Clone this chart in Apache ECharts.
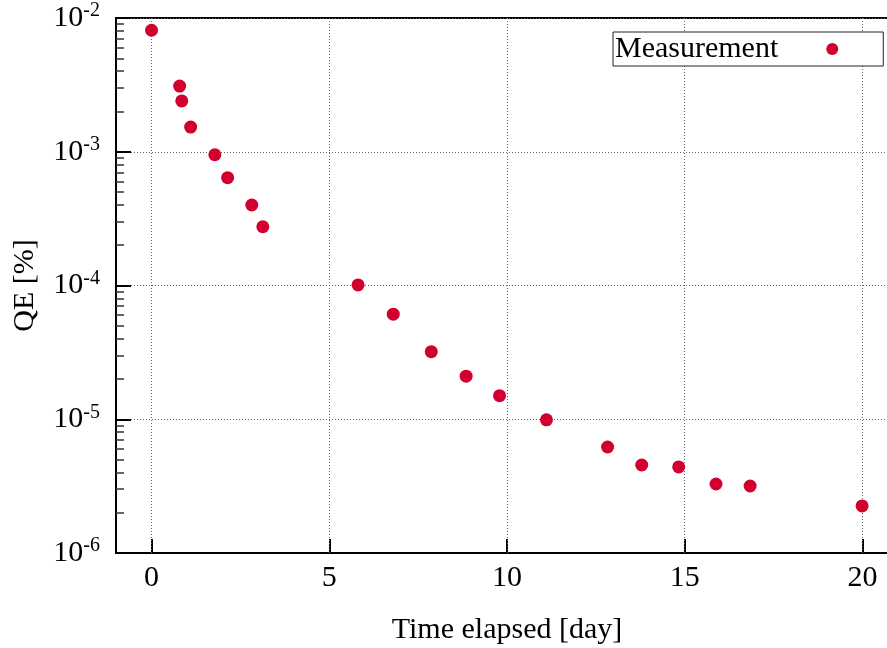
<!DOCTYPE html>
<html>
<head>
<meta charset="utf-8">
<script src="https://cdn.jsdelivr.net/npm/echarts@6/dist/echarts.min.js"></script>
<style>
  html, body { margin: 0; padding: 0; background: #fff; }
  #chart { width: 887px; height: 648px; }
</style>
</head>
<body>
<div id="chart"></div>
<script>
// Quantum efficiency decay over time (log scale)
const seriesName = 'Measurement';
const daysElapsed = [0, 0.79, 0.85, 1.10, 1.78, 2.14, 2.82, 3.13, 5.81, 6.80, 7.87, 8.85, 9.79, 11.11, 12.83, 13.79, 14.83, 15.88, 16.84, 19.99];
const qePercent = [8.1e-3, 3.1e-3, 2.4e-3, 1.53e-3, 9.5e-4, 6.4e-4, 4.0e-4, 2.75e-4, 1.01e-4, 6.1e-5, 3.2e-5, 2.1e-5, 1.5e-5, 9.9e-6, 6.2e-6, 4.55e-6, 4.4e-6, 3.28e-6, 3.17e-6, 2.25e-6];
const xTickValues = [0, 5, 10, 15, 20];
const yExponents = [-6, -5, -4, -3, -2];

const FONT = 'Liberation Serif';
const RED = '#d1002f';

// minor tick positions (log10 of 2..9 within each decade)
const minorLogTicks = [];
for (let e = yExponents[0]; e < yExponents[yExponents.length - 1]; e++) {
  for (let k = 2; k <= 9; k++) minorLogTicks.push(e + Math.log10(k));
}

const points = daysElapsed.map((d, i) => [d, qePercent[i]]);

const chart = echarts.init(document.getElementById('chart'), null, { renderer: 'canvas' });
chart.setOption({
  animation: false,
  backgroundColor: '#fff',
  textStyle: { fontFamily: FONT },
  grid: {
    left: 116, top: 18, width: 782, height: 535,
    outerBoundsMode: 'none',
    containLabel: false,
    show: true, borderColor: '#000', borderWidth: 2, backgroundColor: 'transparent'
  },
  legend: {
    left: 613, top: 32,
    align: 'right',
    orient: 'horizontal',
    itemWidth: 98, itemHeight: 12,
    padding: [2, 45, 2, 2],
    borderColor: '#222', borderWidth: 1,
    backgroundColor: '#fff',
    textStyle: { fontFamily: FONT, fontSize: 30, color: '#000' },
    data: [{ name: seriesName, icon: 'circle' }]
  },
  xAxis: {
    type: 'value',
    min: -1, max: 21,
    name: 'Time elapsed [day]',
    nameLocation: 'middle',
    nameGap: 62,
    nameTextStyle: { fontFamily: FONT, fontSize: 30, color: '#000' },
    axisLine: { show: true, onZero: false, lineStyle: { color: '#000', width: 2 } },
    axisTick: { inside: true, length: 14, customValues: xTickValues, lineStyle: { color: '#000', width: 2 } },
    axisLabel: { customValues: xTickValues, margin: 10, fontFamily: FONT, fontSize: 30, color: '#000' },
    splitLine: { show: false }
  },
  yAxis: [{
    type: 'log',
    logBase: 10,
    min: 1e-6, max: 1e-2,
    name: 'QE [%]',
    nameLocation: 'middle',
    nameGap: 76,
    nameTextStyle: { fontFamily: FONT, fontSize: 30, color: '#000' },
    axisLine: { show: true, onZero: false, lineStyle: { color: '#000', width: 2 } },
    axisTick: { inside: true, length: 15, lineStyle: { color: '#000', width: 2 } },
    axisLabel: {
      margin: 16,
      formatter: function (v) {
        const e = Math.round(Math.log10(v));
        return '{b|10}{s|' + e + '}';
      },
      rich: {
        b: { fontFamily: FONT, fontSize: 30, color: '#000' },
        s: { fontFamily: FONT, fontSize: 20, color: '#000', verticalAlign: 'top', padding: [0, 0, 14, 0] }
      }
    },
    splitLine: { show: true, lineStyle: { color: '#666', width: 1, type: [1, 2] } }
  }, {
    // minor ticks between decades
    type: 'value',
    min: yExponents[0], max: yExponents[yExponents.length - 1],
    position: 'left',
    axisLine: { show: false, onZero: false },
    axisLabel: { show: false },
    splitLine: { show: false },
    axisTick: { show: true, inside: true, length: 8, customValues: minorLogTicks, lineStyle: { color: '#333', width: 1.5 } }
  }],
  series: [{
    name: seriesName,
    type: 'scatter',
    yAxisIndex: 0,
    symbol: 'circle',
    symbolSize: 13,
    itemStyle: { color: RED, opacity: 1 },
    data: points,
    markLine: {
      silent: true,
      symbol: 'none',
      z: 1,
      label: { show: false },
      lineStyle: { color: '#666', width: 1, type: [1, 2] },
      data: xTickValues.map(v => ({ xAxis: v }))
    }
  }]
});
</script>
</body>
</html>
